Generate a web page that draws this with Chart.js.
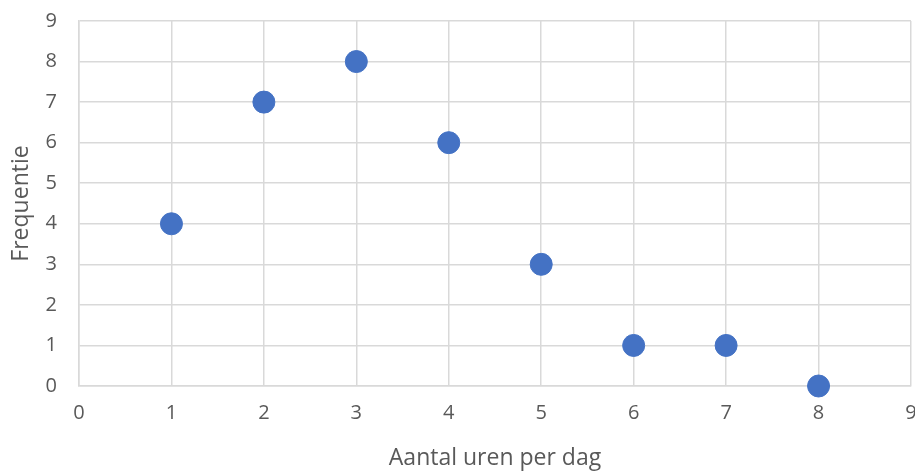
<!DOCTYPE html>
<html>
<head>
<meta charset="utf-8">
<script src="https://cdn.jsdelivr.net/npm/chart.js@4"></script>
<style>
  html, body { margin: 0; padding: 0; background: #fff; overflow: hidden; }
  #wrap { width: 923px; height: 472px; }
</style>
</head>
<body>
<div id="wrap"><canvas id="myChart"></canvas></div>
<script>
// hours per day vs frequency
const uren = [1, 2, 3, 4, 5, 6, 7, 8];
const frequentie = [4, 7, 8, 6, 3, 1, 1, 0];
const xTicks = [0, 1, 2, 3, 4, 5, 6, 7, 8, 9];
const yTicks = [0, 1, 2, 3, 4, 5, 6, 7, 8, 9];

const points = uren.map((u, i) => ({ x: u, y: frequentie[i] }));
const labelColor = '#595959';
const gridColor = '#d9d9d9';
const tickFont = { family: 'Open Sans', size: 20 };
const titleFont = { family: 'Open Sans', size: 23 };

const ctx = document.getElementById('myChart').getContext('2d');
const myChart = new Chart(ctx, {
    type: 'scatter',
    data: {
        datasets: [{
            label: 'Frequentie',
            data: points,
            backgroundColor: '#4472c4',
            borderColor: '#4472c4',
            pointRadius: 11,
            pointHoverRadius: 11,
            clip: false
        }]
    },
    options: {
        responsive: true,
        maintainAspectRatio: false,
        animation: false,
        layout: { padding: { top: 21, right: 0, left: 0, bottom: 0 } },
        plugins: {
            legend: { display: false },
            tooltip: { enabled: false }
        },
        scales: {
            x: {
                type: 'linear',
                min: 0,
                max: 9,
                afterBuildTicks: (s) => { s.ticks = xTicks.map(v => ({ value: v })); },
                afterFit: (s) => { s.height = 86; s.paddingLeft = 0; s.paddingRight = 0; },
                grid: { color: gridColor, lineWidth: 1.5, drawTicks: false },
                border: { color: gridColor, width: 1.5 },
                ticks: { color: labelColor, font: tickFont, padding: 15 },
                title: {
                    display: true,
                    text: 'Aantal uren per dag',
                    color: labelColor,
                    font: titleFont,
                    padding: { top: 8, bottom: 0 }
                }
            },
            y: {
                type: 'linear',
                min: 0,
                max: 9,
                afterBuildTicks: (s) => { s.ticks = yTicks.map(v => ({ value: v })); },
                afterFit: (s) => { s.width = 79; s.paddingTop = 0; s.paddingBottom = 0; },
                grid: { color: gridColor, lineWidth: 1.5, drawTicks: false },
                border: { color: gridColor, width: 1.5 },
                ticks: { color: labelColor, font: tickFont, padding: 22 },
                title: {
                    display: true,
                    text: 'Frequentie',
                    color: labelColor,
                    font: titleFont,
                    padding: { top: 8, bottom: 0 }
                }
            }
        }
    }
});
</script>
</body>
</html>
